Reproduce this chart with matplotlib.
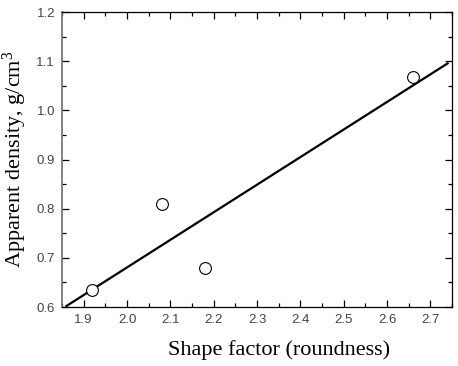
import numpy as np
import matplotlib.pyplot as plt
from matplotlib.ticker import MultipleLocator

plt.rcParams['mathtext.fontset'] = 'custom'
plt.rcParams['mathtext.rm'] = 'Liberation Serif'
plt.rcParams['mathtext.it'] = 'Liberation Serif:italic'

# shape factor vs apparent density
shape_factor = [1.92, 2.08, 2.18, 2.66]
density = [0.635, 0.81, 0.68, 1.068]
fit_range = [1.86, 2.74]

fig = plt.figure(figsize=(4.58, 3.66), dpi=100)
ax = fig.add_axes([0.1354, 0.1612, 0.8515, 0.806])

k, b = np.polyfit(shape_factor, density, 1)
fx = np.array(fit_range)
ax.plot(fx, k * fx + b, color='black', lw=1.6)
ax.plot(shape_factor, density, 'o', mfc='white', mec='black', ms=8.5, mew=0.8)

ax.set_xlim(1.85, 2.75)
ax.set_ylim(0.6, 1.2)
ax.xaxis.set_major_locator(MultipleLocator(0.1))
ax.xaxis.set_minor_locator(MultipleLocator(0.05))
ax.yaxis.set_major_locator(MultipleLocator(0.1))
ax.yaxis.set_minor_locator(MultipleLocator(0.05))
ax.tick_params(which='both', direction='in', top=True, right=True,
               labelsize=9.5, labelcolor='#444444', width=0.9)
ax.tick_params(which='major', length=5, pad=5)
ax.tick_params(which='minor', length=3)
for lbl in ax.get_xticklabels() + ax.get_yticklabels():
    lbl.set_family('Liberation Sans')
for s in ax.spines.values():
    s.set_linewidth(0.9)
ax.spines['left'].set_color('#777777')
ax.spines['left'].set_linewidth(1.3)

ax.set_xlabel('Shape factor (roundness)', family='Liberation Serif', fontsize=16)
ax.set_ylabel('Apparent density, g/cm$^\\mathrm{3}$', family='Liberation Serif', fontsize=16)
ax.xaxis.label.set_va('center')
ax.yaxis.label.set_va('center')
ax.xaxis.set_label_coords(0.556, -0.146)
ax.yaxis.set_label_coords(-0.12, 0.5)

fig.savefig('out.png', dpi=100)
